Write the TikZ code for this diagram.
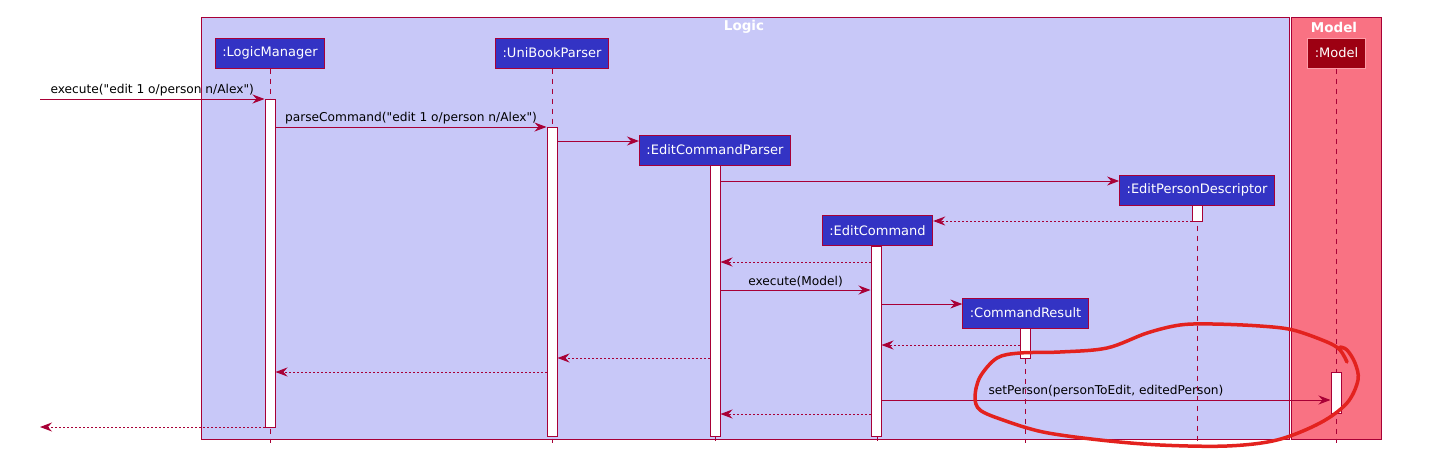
\documentclass[tikz,border=0pt]{standalone}
\usepackage{fontspec}
\newfontfamily\umlfont{DejaVu Sans}
\usetikzlibrary{arrows.meta,positioning}
\definecolor{umlred}{HTML}{A80036}
\definecolor{logicbg}{HTML}{C8C8F8}
\definecolor{modelbg}{HTML}{F97283}
\definecolor{partblue}{HTML}{3333C4}
\definecolor{partred}{HTML}{9D0012}
\definecolor{markred}{HTML}{E3221E}
\begin{document}
\begin{tikzpicture}[x=1pt,y=-1pt,
part/.style={draw=umlred, fill=partblue, text=white, line width=1pt,
  minimum height=30pt, inner xsep=7pt, font=\umlfont\fontsize{13}{15}\selectfont},
act/.style={draw=umlred, fill=white, line width=1pt, minimum width=10pt, inner sep=0pt},
life/.style={umlred, line width=1pt, dash pattern=on 5pt off 5pt},
msg/.style={umlred, line width=1pt, -{Stealth[length=12pt,width=9pt,inset=4pt]}},
ret/.style={msg, dash pattern=on 2pt off 2pt},
lbl/.style={above, text=black, inner sep=2pt, font=\umlfont\fontsize{12.2}{14}\selectfont},
frametitle/.style={text=white, font=\umlfont\bfseries\fontsize{13.5}{15}\selectfont}]

\useasboundingbox (0,0) rectangle (1437,458);

\draw[umlred, line width=1pt, fill=logicbg] (201,17) rectangle (1289,439);
\draw[umlred, line width=1pt, fill=modelbg] (1291,17) rectangle (1381,439);
\node[frametitle] (logic) at (744,27) {Logic};
\node[frametitle] (model) at (1334,27) {Model};

\node[part] (lm) at (270,53) {:LogicManager};
\node[part] (ub) at (552,53) {:UniBookParser};
\node[part] (ecp) at (715,150) {:EditCommandParser};
\node[part] (epd) at (1197,190) {:EditPersonDescriptor};
\node[part] (ec) at (877.5,230.5) {:EditCommand};
\node[part] (cr) at (1025.5,313) {:CommandResult};
\node[part, fill=partred, draw=modelbg!70!white] (m) at (1336.5,53) {:Model};

\coordinate (bot) at (0,443);
\foreach \p in {lm,ub,ecp,epd,ec,cr,m}
  \draw[life] (\p.south) -- (\p.south |- bot);

\node[act, minimum height=328pt] (aLM) at (270,263) {};
\node[act, minimum height=309pt] (aUB) at (552,281.5) {};
\node[act, minimum height=271pt] (aECP) at (715,300.5) {};
\node[act, minimum height=16pt] (aEPD) at (1197,213) {};
\node[act, minimum height=190pt] (aEC) at (876,341) {};
\node[act, minimum height=30pt] (aCR) at (1025,343) {};
\node[act, minimum height=41pt] (aM) at (1336,392.5) {};

\foreach \n/\y in {1/99,2/127,3/141,4/181,5/221,6/262,7/290,8/304,9/345,10/358,11/372,12/400,13/414,14/427}
  \coordinate (t\n) at (0,\y);
\coordinate (in) at (40,99);
\coordinate (out) at (40,427);

\draw[msg] (in) -- (aLM.west |- t1) node[lbl, midway] {execute("edit 1 o/person n/Alex")};
\draw[msg] (aLM.east |- t2) -- (aUB.west |- t2) node[lbl, midway] {parseCommand("edit 1 o/person n/Alex")};
\draw[msg] (aUB.east |- t3) -- (ecp.west |- t3);
\draw[msg] (aECP.east |- t4) -- (epd.west |- t4);
\draw[ret] (aEPD.west |- t5) -- (ec.east |- t5);
\draw[ret] (aEC.west |- t6) -- (aECP.east |- t6);
\draw[msg] (aECP.east |- t7) -- (aEC.west |- t7) node[lbl, midway] {execute(Model)};
\draw[msg] (aEC.east |- t8) -- (cr.west |- t8);
\draw[ret] (aCR.west |- t9) -- (aEC.east |- t9);
\draw[ret] (aECP.west |- t10) -- (aUB.east |- t10);
\draw[ret] (aUB.west |- t11) -- (aLM.east |- t11);
\draw[msg] (aEC.east |- t12) -- (aM.west |- t12) node[lbl, midway] {setPerson(personToEdit, editedPerson)};
\draw[ret] (aEC.west |- t13) -- (aECP.east |- t13);
\draw[ret] (aLM.west |- t14) -- (out);

\draw[markred, line width=3.5pt, line cap=round, line join=round]
  plot[smooth, tension=0.55] coordinates {(1347,362) (1340,350) (1327,342) (1293,330) (1260,326)
  (1213,324) (1180,325) (1147,333) (1107,348) (1060,352) (1020,353) (997,358) (980,377)
  (975,397) (980,410) (1003,420) (1043,432) (1100,440) (1160,445) (1227,446) (1277,440)
  (1320,423) (1347,403) (1358,380) (1355,363) (1347,350) (1340,347)};
\end{tikzpicture}
\end{document}
